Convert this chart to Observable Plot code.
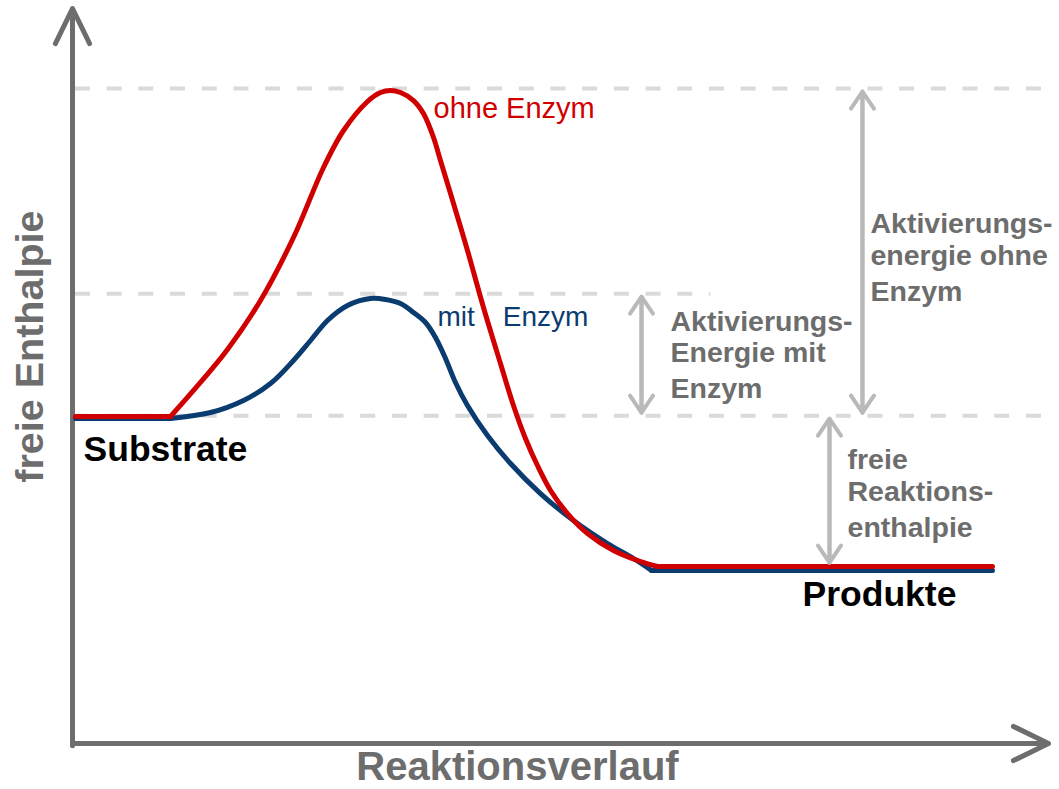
<!DOCTYPE html>
<html>
<head>
<meta charset="utf-8">
<script src="https://cdn.jsdelivr.net/npm/d3@7"></script>
<script src="https://cdn.jsdelivr.net/npm/@observablehq/plot@0.6"></script>
<style>
  html, body { margin: 0; padding: 0; background: #ffffff; }
  #chart svg { display: block; }
</style>
</head>
<body>
<div id="chart"></div>
<script>
// Reaction progress (x) and free enthalpy (y), arbitrary units
const redStartX = [0.3, 10.04];
const redStartY = [44.49, 44.49];
const redX = [10.04, 12.40, 15.88, 19.26, 22.64, 25.72, 27.77, 30.23, 31.56, 32.58, 33.61, 34.94, 35.96, 36.99, 37.70, 38.73, 40.47, 42.11, 43.85, 45.18, 46.41, 47.64, 48.98, 50.72, 52.77, 55.43, 58.20, 59.94];
const redY = [44.49, 48.03, 53.61, 60.27, 68.84, 78.37, 83.40, 87.35, 88.57, 88.84, 88.57, 87.48, 85.71, 82.45, 79.32, 74.83, 67.07, 59.32, 51.70, 45.99, 41.50, 37.82, 34.42, 31.29, 28.57, 26.26, 24.76, 24.08];
const redEndX = [59.94, 94.26];
const redEndY = [24.08, 24.08];

const blueStartX = [0.31, 10.04];
const blueStartY = [44.22, 44.22];
const blueX = [10.04, 14.14, 17.52, 20.29, 22.64, 24.39, 26.13, 28.18, 30.53, 32.07, 33.61, 34.94, 36.17, 37.19, 38.22, 39.24, 40.47, 42.52, 44.88, 47.95, 51.33, 54.82, 57.48, 59.32];
const blueY = [44.22, 45.03, 46.67, 48.98, 52.11, 54.83, 57.55, 59.59, 60.54, 60.41, 59.86, 58.64, 57.28, 55.24, 52.38, 49.12, 45.99, 41.90, 38.10, 34.01, 30.34, 27.21, 25.17, 23.54];
const blueEndX = [59.32, 94.26];
const blueEndY = [23.54, 23.54];

// Energy levels
const levelPeakOhne = 89.1;
const levelPeakMit = 61.2;
const levelSubstrate = 44.6;
const levelProdukt = 24.2;

// Texts
const seriesLabels = ["ohne Enzym", "mit\u2003Enzym"];
const stateLabels = ["Substrate", "Produkte"];
const axisLabels = ["Reaktionsverlauf", "freie Enthalpie"];
const ohneLines = ["Aktivierungs-", "energie ohne", "Enzym"];
const mitLines = ["Aktivierungs-", "Energie mit", "Enzym"];
const freieLines = ["freie", "Reaktions-", "enthalpie"];

// Tables built from the arrays
const rows = (xs, ys, seg) => xs.map((x, i) => ({x, y: ys[i], seg}));
const redCurve = rows(redX, redY, "curve");
const redFlat = [...rows(redStartX, redStartY, "start"), ...rows(redEndX, redEndY, "end")];
const blueCurve = rows(blueX, blueY, "curve");
const blueFlat = [...rows(blueStartX, blueStartY, "start"), ...rows(blueEndX, blueEndY, "end")];

const dashed = [
  {y: levelPeakOhne, x1: 0.3, x2: 99.8},
  {y: levelPeakMit, x1: 0.3, x2: 65.4},
  {y: levelSubstrate, x1: 0.3, x2: 99.8}
];

const spans = [
  {x: 80.94, a: levelSubstrate, b: levelPeakOhne},
  {x: 58.3, a: levelSubstrate, b: levelPeakMit},
  {x: 77.56, a: levelSubstrate, b: levelProdukt}
];

const gray = "#6d6d6d";
const lightGray = "#b9b9b9";
const RED = "#d10000";
const BLUE = "#0b3c70";
const font = "Liberation Sans, Arial, Helvetica, sans-serif";

function lines(arr, x, ys) {
  return arr.map((t, i) => ({text: t, x, y: ys[i]}));
}

const arrowOpts = {stroke: lightGray, strokeWidth: 4, headLength: 7.7, headAngle: 68, insetStart: 3, insetEnd: 3};

const chart = Plot.plot({
  width: 1059,
  height: 789,
  margin: 0,
  x: {domain: [0, 100], range: [72, 1048], axis: null},
  y: {domain: [0, 100], range: [743, 8], axis: null},
  style: {background: "#ffffff", fontFamily: font, overflow: "visible"},
  marks: [
    // dashed guide levels
    Plot.ruleY(dashed, {y: "y", x1: "x1", x2: "x2", stroke: "#dadada", strokeWidth: 4, strokeDasharray: "15,16.7"}),
    // axes with arrows
    Plot.arrow([{x1: 0, y1: 0, x2: 100, y2: 0}, {x1: 0, y1: -0.3, x2: 0, y2: 100}],
      {x1: "x1", y1: "y1", x2: "x2", y2: "y2", stroke: gray, strokeWidth: 5, headLength: 11.7, headAngle: 52}),
    // curves
    Plot.line(blueFlat, {x: "x", y: "y", z: "seg", stroke: BLUE, strokeWidth: 5}),
    Plot.line(blueCurve, {x: "x", y: "y", stroke: BLUE, strokeWidth: 5, curve: "catmull-rom"}),
    Plot.line(redFlat, {x: "x", y: "y", z: "seg", stroke: RED, strokeWidth: 5}),
    Plot.line(redCurve, {x: "x", y: "y", stroke: RED, strokeWidth: 5, curve: "catmull-rom"}),
    // double-headed arrows (one arrow each way)
    Plot.arrow(spans, {x: "x", y1: "a", y2: "b", ...arrowOpts}),
    Plot.arrow(spans, {x: "x", y1: "b", y2: "a", ...arrowOpts}),
    // series labels
    Plot.text([{text: seriesLabels[0], x: 36.99, y: 85.17}], {x: "x", y: "y", text: "text", fill: RED, fontSize: 29, textAnchor: "start", lineAnchor: "bottom"}),
    Plot.text([{text: seriesLabels[1], x: 37.4, y: 56.87}], {x: "x", y: "y", text: "text", fill: BLUE, fontSize: 28, textAnchor: "start", lineAnchor: "bottom"}),
    // state labels
    Plot.text([{text: stateLabels[0], x: 1.13, y: 38.5}, {text: stateLabels[1], x: 74.8, y: 18.64}],
      {x: "x", y: "y", text: "text", fill: "#000000", fontSize: 35.5, fontWeight: "bold", textAnchor: "start", lineAnchor: "bottom"}),
    // annotation labels
    Plot.text([
      ...lines(ohneLines, 81.76, [69.52, 65.17, 60.27]),
      ...lines(mitLines, 61.27, [56.19, 51.97, 47.07]),
      ...lines(freieLines, 79.41, [37.41, 33.06, 28.03])
    ], {x: "x", y: "y", text: "text", fill: gray, fontSize: 28.5, fontWeight: "bold", textAnchor: "start", lineAnchor: "bottom"}),
    // axis labels
    Plot.text([{text: axisLabels[0], x: 45.59, y: -5.0}], {x: "x", y: "y", text: "text", fill: gray, fontSize: 40, fontWeight: "bold", textAnchor: "middle", lineAnchor: "bottom"}),
    Plot.text([{text: axisLabels[1], x: -3.07, y: 54.0}], {x: "x", y: "y", text: "text", fill: gray, fontSize: 39.5, fontWeight: "bold", textAnchor: "middle", lineAnchor: "bottom", rotate: -90})
  ]
});
document.getElementById("chart").appendChild(chart);
</script>
</body>
</html>
